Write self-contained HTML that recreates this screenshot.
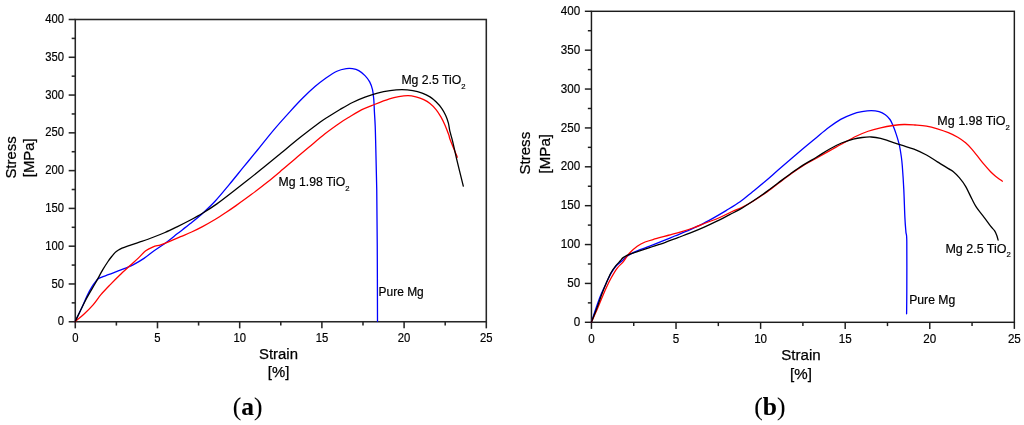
<!DOCTYPE html>
<html><head><meta charset="utf-8"><title>Stress-strain</title>
<style>
html,body{margin:0;padding:0;background:#fff;}
body{width:1024px;height:425px;overflow:hidden;font-family:"Liberation Sans",sans-serif;}
svg{display:block;will-change:transform;}
text{font-family:"Liberation Sans",sans-serif;fill:#000;stroke:#000;stroke-width:0.18px;}
.tk{font-size:12px;}
.tkb{font-size:12.4px;}
.lb{font-size:12.25px;}
.lbb{font-size:12.5px;}
.pm{font-size:11.95px;}
.pmb{font-size:12.2px;}
.tib{font-size:15.1px;stroke-width:0.25px;}
.ti{font-size:14.9px;stroke-width:0.25px;}
.cp{font-family:"Liberation Serif",serif;font-size:25.5px;fill:#000;stroke-width:0.1px;}
</style></head><body>
<svg width="1024" height="425" viewBox="0 0 1024 425">
<rect width="1024" height="425" fill="#fff"/>
<rect x="75.28" y="19.5" width="411.02" height="302.25" fill="none" stroke="#262626" stroke-width="1.55"/>
<line x1="68.68" y1="321.75" x2="75.28" y2="321.75" stroke="#262626" stroke-width="1.55"/>
<text transform="translate(64.08,325.35) scale(0.94,1.05)" text-anchor="end" class="tk">0</text>
<line x1="71.68" y1="302.86" x2="75.28" y2="302.86" stroke="#262626" stroke-width="1.55"/>
<line x1="68.68" y1="283.97" x2="75.28" y2="283.97" stroke="#262626" stroke-width="1.55"/>
<text transform="translate(64.08,287.57) scale(0.94,1.05)" text-anchor="end" class="tk">50</text>
<line x1="71.68" y1="265.08" x2="75.28" y2="265.08" stroke="#262626" stroke-width="1.55"/>
<line x1="68.68" y1="246.19" x2="75.28" y2="246.19" stroke="#262626" stroke-width="1.55"/>
<text transform="translate(64.08,249.79) scale(0.94,1.05)" text-anchor="end" class="tk">100</text>
<line x1="71.68" y1="227.30" x2="75.28" y2="227.30" stroke="#262626" stroke-width="1.55"/>
<line x1="68.68" y1="208.41" x2="75.28" y2="208.41" stroke="#262626" stroke-width="1.55"/>
<text transform="translate(64.08,212.01) scale(0.94,1.05)" text-anchor="end" class="tk">150</text>
<line x1="71.68" y1="189.52" x2="75.28" y2="189.52" stroke="#262626" stroke-width="1.55"/>
<line x1="68.68" y1="170.62" x2="75.28" y2="170.62" stroke="#262626" stroke-width="1.55"/>
<text transform="translate(64.08,174.22) scale(0.94,1.05)" text-anchor="end" class="tk">200</text>
<line x1="71.68" y1="151.73" x2="75.28" y2="151.73" stroke="#262626" stroke-width="1.55"/>
<line x1="68.68" y1="132.84" x2="75.28" y2="132.84" stroke="#262626" stroke-width="1.55"/>
<text transform="translate(64.08,136.44) scale(0.94,1.05)" text-anchor="end" class="tk">250</text>
<line x1="71.68" y1="113.95" x2="75.28" y2="113.95" stroke="#262626" stroke-width="1.55"/>
<line x1="68.68" y1="95.06" x2="75.28" y2="95.06" stroke="#262626" stroke-width="1.55"/>
<text transform="translate(64.08,98.66) scale(0.94,1.05)" text-anchor="end" class="tk">300</text>
<line x1="71.68" y1="76.17" x2="75.28" y2="76.17" stroke="#262626" stroke-width="1.55"/>
<line x1="68.68" y1="57.28" x2="75.28" y2="57.28" stroke="#262626" stroke-width="1.55"/>
<text transform="translate(64.08,60.88) scale(0.94,1.05)" text-anchor="end" class="tk">350</text>
<line x1="71.68" y1="38.39" x2="75.28" y2="38.39" stroke="#262626" stroke-width="1.55"/>
<line x1="68.68" y1="19.50" x2="75.28" y2="19.50" stroke="#262626" stroke-width="1.55"/>
<text transform="translate(64.08,23.10) scale(0.94,1.05)" text-anchor="end" class="tk">400</text>
<line x1="75.28" y1="321.75" x2="75.28" y2="328.35" stroke="#262626" stroke-width="1.55"/>
<text transform="translate(75.28,342.30) scale(0.94,1.05)" text-anchor="middle" class="tk">0</text>
<line x1="116.38" y1="321.75" x2="116.38" y2="325.55" stroke="#262626" stroke-width="1.55"/>
<line x1="157.48" y1="321.75" x2="157.48" y2="328.35" stroke="#262626" stroke-width="1.55"/>
<text transform="translate(157.48,342.30) scale(0.94,1.05)" text-anchor="middle" class="tk">5</text>
<line x1="198.59" y1="321.75" x2="198.59" y2="325.55" stroke="#262626" stroke-width="1.55"/>
<line x1="239.69" y1="321.75" x2="239.69" y2="328.35" stroke="#262626" stroke-width="1.55"/>
<text transform="translate(239.69,342.30) scale(0.94,1.05)" text-anchor="middle" class="tk">10</text>
<line x1="280.79" y1="321.75" x2="280.79" y2="325.55" stroke="#262626" stroke-width="1.55"/>
<line x1="321.89" y1="321.75" x2="321.89" y2="328.35" stroke="#262626" stroke-width="1.55"/>
<text transform="translate(321.89,342.30) scale(0.94,1.05)" text-anchor="middle" class="tk">15</text>
<line x1="362.99" y1="321.75" x2="362.99" y2="325.55" stroke="#262626" stroke-width="1.55"/>
<line x1="404.10" y1="321.75" x2="404.10" y2="328.35" stroke="#262626" stroke-width="1.55"/>
<text transform="translate(404.10,342.30) scale(0.94,1.05)" text-anchor="middle" class="tk">20</text>
<line x1="445.20" y1="321.75" x2="445.20" y2="325.55" stroke="#262626" stroke-width="1.55"/>
<line x1="486.30" y1="321.75" x2="486.30" y2="328.35" stroke="#262626" stroke-width="1.55"/>
<text transform="translate(486.30,342.30) scale(0.94,1.05)" text-anchor="middle" class="tk">25</text>
<rect x="591.45" y="11.3" width="422.9" height="311.0" fill="none" stroke="#1c1c1c" stroke-width="1.45"/>
<line x1="584.85" y1="322.30" x2="591.45" y2="322.30" stroke="#1c1c1c" stroke-width="1.45"/>
<text transform="translate(580.25,325.90) scale(0.94,1.05)" text-anchor="end" class="tkb">0</text>
<line x1="587.85" y1="302.86" x2="591.45" y2="302.86" stroke="#1c1c1c" stroke-width="1.45"/>
<line x1="584.85" y1="283.43" x2="591.45" y2="283.43" stroke="#1c1c1c" stroke-width="1.45"/>
<text transform="translate(580.25,287.03) scale(0.94,1.05)" text-anchor="end" class="tkb">50</text>
<line x1="587.85" y1="263.99" x2="591.45" y2="263.99" stroke="#1c1c1c" stroke-width="1.45"/>
<line x1="584.85" y1="244.55" x2="591.45" y2="244.55" stroke="#1c1c1c" stroke-width="1.45"/>
<text transform="translate(580.25,248.15) scale(0.94,1.05)" text-anchor="end" class="tkb">100</text>
<line x1="587.85" y1="225.11" x2="591.45" y2="225.11" stroke="#1c1c1c" stroke-width="1.45"/>
<line x1="584.85" y1="205.68" x2="591.45" y2="205.68" stroke="#1c1c1c" stroke-width="1.45"/>
<text transform="translate(580.25,209.28) scale(0.94,1.05)" text-anchor="end" class="tkb">150</text>
<line x1="587.85" y1="186.24" x2="591.45" y2="186.24" stroke="#1c1c1c" stroke-width="1.45"/>
<line x1="584.85" y1="166.80" x2="591.45" y2="166.80" stroke="#1c1c1c" stroke-width="1.45"/>
<text transform="translate(580.25,170.40) scale(0.94,1.05)" text-anchor="end" class="tkb">200</text>
<line x1="587.85" y1="147.36" x2="591.45" y2="147.36" stroke="#1c1c1c" stroke-width="1.45"/>
<line x1="584.85" y1="127.93" x2="591.45" y2="127.93" stroke="#1c1c1c" stroke-width="1.45"/>
<text transform="translate(580.25,131.53) scale(0.94,1.05)" text-anchor="end" class="tkb">250</text>
<line x1="587.85" y1="108.49" x2="591.45" y2="108.49" stroke="#1c1c1c" stroke-width="1.45"/>
<line x1="584.85" y1="89.05" x2="591.45" y2="89.05" stroke="#1c1c1c" stroke-width="1.45"/>
<text transform="translate(580.25,92.65) scale(0.94,1.05)" text-anchor="end" class="tkb">300</text>
<line x1="587.85" y1="69.61" x2="591.45" y2="69.61" stroke="#1c1c1c" stroke-width="1.45"/>
<line x1="584.85" y1="50.18" x2="591.45" y2="50.18" stroke="#1c1c1c" stroke-width="1.45"/>
<text transform="translate(580.25,53.78) scale(0.94,1.05)" text-anchor="end" class="tkb">350</text>
<line x1="587.85" y1="30.74" x2="591.45" y2="30.74" stroke="#1c1c1c" stroke-width="1.45"/>
<line x1="584.85" y1="11.30" x2="591.45" y2="11.30" stroke="#1c1c1c" stroke-width="1.45"/>
<text transform="translate(580.25,14.90) scale(0.94,1.05)" text-anchor="end" class="tkb">400</text>
<line x1="591.45" y1="322.3" x2="591.45" y2="328.90" stroke="#1c1c1c" stroke-width="1.45"/>
<text transform="translate(591.45,342.85) scale(0.94,1.05)" text-anchor="middle" class="tkb">0</text>
<line x1="633.74" y1="322.3" x2="633.74" y2="326.10" stroke="#1c1c1c" stroke-width="1.45"/>
<line x1="676.03" y1="322.3" x2="676.03" y2="328.90" stroke="#1c1c1c" stroke-width="1.45"/>
<text transform="translate(676.03,342.85) scale(0.94,1.05)" text-anchor="middle" class="tkb">5</text>
<line x1="718.32" y1="322.3" x2="718.32" y2="326.10" stroke="#1c1c1c" stroke-width="1.45"/>
<line x1="760.61" y1="322.3" x2="760.61" y2="328.90" stroke="#1c1c1c" stroke-width="1.45"/>
<text transform="translate(760.61,342.85) scale(0.94,1.05)" text-anchor="middle" class="tkb">10</text>
<line x1="802.90" y1="322.3" x2="802.90" y2="326.10" stroke="#1c1c1c" stroke-width="1.45"/>
<line x1="845.19" y1="322.3" x2="845.19" y2="328.90" stroke="#1c1c1c" stroke-width="1.45"/>
<text transform="translate(845.19,342.85) scale(0.94,1.05)" text-anchor="middle" class="tkb">15</text>
<line x1="887.48" y1="322.3" x2="887.48" y2="326.10" stroke="#1c1c1c" stroke-width="1.45"/>
<line x1="929.77" y1="322.3" x2="929.77" y2="328.90" stroke="#1c1c1c" stroke-width="1.45"/>
<text transform="translate(929.77,342.85) scale(0.94,1.05)" text-anchor="middle" class="tkb">20</text>
<line x1="972.06" y1="322.3" x2="972.06" y2="326.10" stroke="#1c1c1c" stroke-width="1.45"/>
<line x1="1014.35" y1="322.3" x2="1014.35" y2="328.90" stroke="#1c1c1c" stroke-width="1.45"/>
<text transform="translate(1014.35,342.85) scale(0.94,1.05)" text-anchor="middle" class="tkb">25</text>
<path d="M75.15,321.50C76.24,319.25 79.69,312.33 81.70,308.00C83.71,303.67 85.50,299.02 87.20,295.50C88.90,291.98 90.47,289.25 91.90,286.90C93.33,284.55 94.63,282.83 95.80,281.40C96.97,279.97 96.68,279.47 98.90,278.30C101.12,277.13 105.32,275.83 109.10,274.40C112.88,272.97 117.53,271.33 121.60,269.70C125.67,268.07 129.77,266.48 133.50,264.60C137.23,262.72 140.57,260.70 144.00,258.40C147.43,256.10 150.33,253.50 154.10,250.80C157.87,248.10 162.70,245.07 166.60,242.20C170.50,239.33 173.60,236.67 177.50,233.60C181.40,230.53 185.83,227.17 190.00,223.80C194.17,220.43 198.28,217.20 202.50,213.40C206.72,209.60 210.82,205.83 215.30,201.00C219.78,196.17 224.72,190.03 229.40,184.40C234.08,178.77 238.72,172.93 243.40,167.20C248.08,161.47 252.50,156.15 257.50,150.00C262.50,143.85 267.98,136.70 273.40,130.30C278.82,123.90 285.15,116.93 290.00,111.60C294.85,106.27 298.33,102.47 302.50,98.30C306.67,94.13 311.08,89.98 315.00,86.60C318.92,83.22 322.35,80.56 326.00,78.00C329.65,75.44 333.52,72.80 336.90,71.25C340.27,69.70 343.65,69.12 346.25,68.70C348.85,68.28 350.42,68.38 352.50,68.70C354.58,69.02 356.67,69.45 358.75,70.60C360.83,71.75 363.18,73.72 365.00,75.60C366.82,77.48 368.45,79.55 369.70,81.90C370.95,84.25 371.82,86.85 372.50,89.70C373.18,92.55 373.43,95.35 373.75,99.00C374.07,102.65 374.16,107.10 374.40,111.60C374.64,116.10 374.97,120.27 375.20,126.00C375.43,131.73 375.49,135.33 375.75,146.00C376.01,156.67 376.50,173.33 376.75,190.00C377.00,206.67 377.12,224.12 377.25,246.00C377.38,267.88 377.46,308.71 377.50,321.25" fill="none" stroke="#0000ff" stroke-width="1.3" stroke-linejoin="round" stroke-linecap="round"/>
<path d="M75.15,321.50C76.73,320.17 81.63,316.27 84.62,313.50C87.61,310.73 90.38,308.03 93.09,304.90C95.80,301.77 98.03,298.08 100.90,294.70C103.77,291.32 107.18,287.85 110.30,284.60C113.42,281.35 116.35,278.33 119.60,275.20C122.85,272.07 126.60,268.73 129.80,265.80C133.00,262.87 136.15,260.10 138.80,257.60C141.45,255.10 143.31,252.58 145.71,250.80C148.11,249.02 150.70,247.90 153.20,246.90C155.70,245.90 157.94,245.72 160.69,244.80C163.44,243.88 166.39,242.75 169.71,241.40C173.03,240.05 176.95,238.27 180.60,236.70C184.25,235.13 187.95,233.68 191.60,232.00C195.25,230.32 198.60,228.68 202.50,226.60C206.40,224.52 211.10,221.85 215.00,219.50C218.90,217.15 222.40,214.82 225.90,212.50C229.40,210.18 231.78,208.58 236.00,205.60C240.22,202.62 246.10,198.43 251.25,194.60C256.40,190.77 261.69,186.77 266.90,182.60C272.11,178.43 277.82,173.55 282.50,169.60C287.18,165.65 290.67,162.57 295.00,158.90C299.33,155.23 303.50,151.78 308.50,147.60C313.50,143.42 319.65,137.98 325.00,133.80C330.35,129.62 336.53,125.30 340.60,122.50C344.67,119.70 345.85,119.13 349.40,117.00C352.95,114.87 357.73,111.78 361.90,109.70C366.07,107.62 369.82,106.30 374.40,104.50C378.98,102.70 385.34,100.22 389.40,98.90C393.46,97.58 395.63,97.15 398.75,96.60C401.87,96.05 405.24,95.55 408.10,95.60C410.96,95.65 413.29,96.22 415.90,96.90C418.51,97.58 421.40,98.58 423.75,99.70C426.10,100.82 427.92,101.92 430.00,103.60C432.08,105.28 434.43,107.58 436.25,109.80C438.07,112.02 439.47,114.42 440.90,116.90C442.32,119.38 443.49,121.72 444.80,124.70C446.11,127.68 447.83,132.25 448.75,134.80C449.67,137.35 448.88,136.26 450.30,140.00C451.73,143.74 456.13,154.38 457.30,157.25" fill="none" stroke="#ff0000" stroke-width="1.3" stroke-linejoin="round" stroke-linecap="round"/>
<path d="M75.15,321.50C76.89,317.95 82.29,306.48 85.60,300.20C88.91,293.92 92.13,288.88 95.00,283.80C97.87,278.72 100.63,273.42 102.80,269.70C104.97,265.98 106.48,263.74 108.00,261.50C109.52,259.26 110.73,257.73 111.90,256.25C113.07,254.77 113.97,253.59 115.00,252.60C116.03,251.61 116.93,251.03 118.10,250.30C119.27,249.57 120.43,248.90 122.00,248.20C123.57,247.50 124.50,247.15 127.50,246.10C130.50,245.05 135.83,243.33 140.00,241.90C144.17,240.47 148.33,239.07 152.50,237.50C156.67,235.93 160.83,234.32 165.00,232.50C169.17,230.68 173.33,228.63 177.50,226.60C181.67,224.57 185.83,222.52 190.00,220.30C194.17,218.08 198.02,216.03 202.50,213.30C206.98,210.57 211.90,207.45 216.90,203.90C221.90,200.35 227.30,196.02 232.50,192.00C237.70,187.98 242.89,183.93 248.10,179.80C253.31,175.67 258.75,171.23 263.75,167.20C268.75,163.17 272.06,160.53 278.10,155.60C284.14,150.67 292.97,143.20 300.00,137.60C307.03,132.00 315.47,125.55 320.30,122.00C325.13,118.45 325.72,118.38 329.00,116.30C332.28,114.22 336.08,111.80 340.00,109.50C343.92,107.20 348.33,104.55 352.50,102.50C356.67,100.45 360.83,98.77 365.00,97.20C369.17,95.63 373.33,94.20 377.50,93.10C381.67,92.00 385.93,91.17 390.00,90.60C394.07,90.03 398.10,89.70 401.90,89.70C405.70,89.70 409.42,90.03 412.80,90.60C416.18,91.17 419.33,92.05 422.20,93.10C425.07,94.15 427.66,95.42 430.00,96.90C432.34,98.38 434.30,100.10 436.25,102.00C438.20,103.90 440.14,106.08 441.70,108.30C443.26,110.52 444.48,112.83 445.60,115.30C446.72,117.77 447.70,120.50 448.40,123.10C449.10,125.70 449.08,127.82 449.80,130.90C450.52,133.98 451.57,136.95 452.70,141.60C453.83,146.25 454.83,151.37 456.60,158.80C458.37,166.23 462.18,181.63 463.30,186.20" fill="none" stroke="#000" stroke-width="1.3" stroke-linejoin="round" stroke-linecap="round"/>
<path d="M591.45,322.10C592.28,319.58 594.81,311.60 596.40,307.00C597.99,302.40 599.35,298.50 601.00,294.50C602.65,290.50 604.58,286.62 606.30,283.00C608.02,279.38 609.63,275.67 611.30,272.80C612.97,269.93 614.58,267.72 616.30,265.80C618.02,263.88 619.67,263.00 621.60,261.30C623.53,259.60 625.29,257.33 627.90,255.60C630.51,253.87 633.61,252.47 637.25,250.90C640.89,249.33 645.58,247.82 649.75,246.20C653.92,244.58 658.08,242.90 662.25,241.20C666.42,239.50 670.58,237.72 674.75,236.00C678.92,234.28 683.01,232.72 687.25,230.90C691.49,229.08 695.85,227.23 700.17,225.10C704.50,222.97 708.90,220.52 713.21,218.10C717.53,215.68 721.58,213.32 726.05,210.60C730.52,207.88 735.63,204.95 740.05,201.80C744.47,198.65 748.38,195.08 752.55,191.70C756.72,188.32 760.88,185.02 765.05,181.50C769.22,177.98 773.38,174.22 777.55,170.60C781.72,166.98 785.67,163.55 790.05,159.80C794.42,156.05 799.42,151.78 803.80,148.10C808.17,144.42 812.15,141.12 816.30,137.70C820.45,134.28 824.63,130.65 828.69,127.60C832.75,124.55 836.66,121.65 840.65,119.40C844.64,117.15 849.07,115.38 852.61,114.10C856.15,112.82 858.79,112.28 861.90,111.70C865.01,111.12 868.38,110.60 871.25,110.60C874.12,110.60 876.76,111.00 879.10,111.70C881.44,112.40 883.48,113.50 885.30,114.80C887.12,116.10 888.70,117.67 890.00,119.50C891.30,121.33 892.06,123.32 893.10,125.80C894.14,128.28 895.20,131.15 896.25,134.40C897.30,137.65 898.57,141.66 899.40,145.30C900.23,148.94 900.77,152.80 901.25,156.25C901.73,159.70 901.88,160.47 902.30,166.00C902.72,171.53 903.37,180.80 903.80,189.40C904.23,198.00 904.55,210.52 904.90,217.60C905.25,224.68 905.58,227.90 905.90,231.90C906.22,235.90 906.65,231.58 906.80,241.60C906.95,251.62 906.83,279.98 906.80,292.00C906.77,304.02 906.63,310.12 906.60,313.75" fill="none" stroke="#0000ff" stroke-width="1.3" stroke-linejoin="round" stroke-linecap="round"/>
<path d="M591.45,322.10C592.43,319.92 595.61,312.92 597.30,309.00C598.99,305.08 600.10,302.15 601.60,298.60C603.10,295.05 604.73,291.08 606.30,287.70C607.87,284.32 609.17,281.55 611.00,278.30C612.83,275.05 615.22,270.95 617.25,268.20C619.28,265.45 621.18,264.30 623.20,261.80C625.23,259.30 627.06,255.80 629.40,253.20C631.74,250.60 634.63,248.07 637.25,246.20C639.87,244.33 641.98,243.25 645.10,242.00C648.23,240.75 652.10,239.82 656.00,238.70C659.90,237.57 664.33,236.40 668.50,235.25C672.67,234.10 676.83,233.05 681.00,231.80C685.17,230.55 689.29,229.26 693.50,227.75C697.71,226.24 701.95,224.42 706.24,222.75C710.53,221.08 714.91,219.62 719.24,217.75C723.57,215.88 728.51,213.21 732.24,211.50C735.97,209.79 738.13,209.22 741.60,207.50C745.07,205.78 749.06,203.62 753.05,201.20C757.04,198.78 761.38,195.93 765.55,193.00C769.72,190.07 773.88,186.72 778.05,183.60C782.22,180.48 786.38,177.28 790.55,174.30C794.72,171.32 798.16,168.71 803.05,165.70C807.94,162.69 815.01,159.00 819.90,156.25C824.79,153.50 828.31,151.49 832.40,149.20C836.49,146.91 840.45,144.66 844.41,142.50C848.37,140.34 852.22,138.12 856.16,136.25C860.11,134.38 864.03,132.66 868.10,131.25C872.17,129.84 876.43,128.76 880.60,127.80C884.77,126.84 889.18,126.05 893.10,125.50C897.02,124.95 900.45,124.58 904.10,124.50C907.75,124.42 911.27,124.73 915.00,125.00C918.73,125.27 922.77,125.47 926.50,126.10C930.23,126.73 933.75,127.70 937.40,128.80C941.05,129.90 945.01,131.28 948.40,132.70C951.79,134.12 954.88,135.62 957.75,137.30C960.62,138.98 963.26,140.83 965.60,142.80C967.94,144.77 969.72,146.75 971.80,149.10C973.88,151.45 976.02,154.30 978.10,156.90C980.18,159.50 982.22,162.23 984.30,164.70C986.38,167.17 988.77,169.83 990.60,171.70C992.43,173.57 993.30,174.32 995.25,175.90C997.20,177.48 1001.12,180.32 1002.30,181.20" fill="none" stroke="#ff0000" stroke-width="1.3" stroke-linejoin="round" stroke-linecap="round"/>
<path d="M591.45,322.10C592.36,319.75 595.21,312.57 596.90,308.00C598.59,303.43 600.03,298.87 601.60,294.70C603.17,290.53 604.73,286.65 606.30,283.00C607.87,279.35 609.43,275.67 611.00,272.80C612.57,269.93 614.13,267.80 615.70,265.80C617.27,263.80 619.15,262.17 620.40,260.80C621.65,259.43 621.70,258.68 623.20,257.60C624.70,256.52 626.53,255.47 629.40,254.30C632.27,253.13 636.48,251.90 640.40,250.60C644.32,249.30 648.73,247.88 652.90,246.50C657.07,245.12 661.23,243.78 665.40,242.30C669.57,240.82 673.73,239.17 677.90,237.60C682.07,236.03 686.13,234.60 690.42,232.90C694.72,231.20 699.26,229.35 703.67,227.40C708.09,225.45 712.59,223.33 716.92,221.20C721.26,219.07 725.89,216.57 729.70,214.60C733.51,212.63 735.91,211.67 739.80,209.40C743.69,207.13 748.76,203.83 753.05,201.00C757.34,198.17 761.38,195.40 765.55,192.40C769.72,189.40 773.88,186.12 778.05,183.00C782.22,179.88 786.38,176.68 790.55,173.70C794.72,170.72 798.67,167.88 803.05,165.10C807.42,162.32 812.42,159.65 816.80,157.00C821.17,154.35 825.18,151.53 829.30,149.20C833.42,146.87 837.51,144.68 841.50,143.00C845.49,141.32 849.82,140.02 853.25,139.10C856.68,138.18 859.09,137.85 862.09,137.50C865.09,137.15 868.16,136.87 871.25,137.00C874.34,137.13 877.48,137.57 880.60,138.30C883.73,139.03 886.52,140.25 890.00,141.40C893.48,142.55 897.50,143.92 901.50,145.20C905.50,146.48 909.83,147.47 914.00,149.10C918.17,150.73 922.60,152.87 926.50,155.00C930.40,157.13 933.75,159.63 937.40,161.90C941.05,164.17 945.78,167.00 948.40,168.60C951.02,170.20 951.28,169.98 953.10,171.50C954.92,173.02 957.22,175.23 959.30,177.70C961.38,180.17 963.52,182.78 965.60,186.30C967.68,189.82 969.98,195.28 971.80,198.80C973.62,202.32 974.42,204.27 976.50,207.40C978.58,210.53 981.95,214.47 984.30,217.60C986.65,220.73 988.90,224.02 990.60,226.20C992.30,228.38 993.47,229.17 994.50,230.70C995.53,232.23 996.20,233.83 996.80,235.40C997.40,236.97 997.88,239.32 998.10,240.10" fill="none" stroke="#000" stroke-width="1.3" stroke-linejoin="round" stroke-linecap="round"/>
<text x="401.4" y="83.8" class="lb">Mg 2.5 TiO<tspan dy="4.7" font-size="7.7">2</tspan></text>
<text x="278.5" y="186.2" class="lb">Mg 1.98 TiO<tspan dy="4.7" font-size="7.7">2</tspan></text>
<text x="378.6" y="296" class="pm">Pure Mg</text>
<text x="937.3" y="125.1" class="lbb">Mg 1.98 TiO<tspan dy="4.7" font-size="7.7">2</tspan></text>
<text x="945.4" y="252.7" class="lbb">Mg 2.5 TiO<tspan dy="4.7" font-size="7.7">2</tspan></text>
<text x="909.2" y="304.3" class="pmb">Pure Mg</text>
<text x="278.5" y="359" text-anchor="middle" class="ti">Strain</text>
<text x="278.6" y="377" text-anchor="middle" class="ti">[%]</text>
<text x="801" y="360.2" text-anchor="middle" class="tib">Strain</text>
<text x="801" y="378.5" text-anchor="middle" class="tib">[%]</text>
<text transform="translate(15.5,157.5) rotate(-90)" text-anchor="middle" class="ti">Stress</text>
<text transform="translate(34.3,157.8) rotate(-90)" text-anchor="middle" class="ti">[MPa]</text>
<text transform="translate(529.7,153.2) rotate(-90)" text-anchor="middle" class="tib">Stress</text>
<text transform="translate(549.6,153.7) rotate(-90)" text-anchor="middle" class="tib">[MPa]</text>
<text x="247.5" y="415.2" text-anchor="middle" class="cp">(<tspan font-weight="bold">a</tspan>)</text>
<text x="769.8" y="415.4" text-anchor="middle" class="cp">(<tspan font-weight="bold">b</tspan>)</text>
</svg>
</body></html>
